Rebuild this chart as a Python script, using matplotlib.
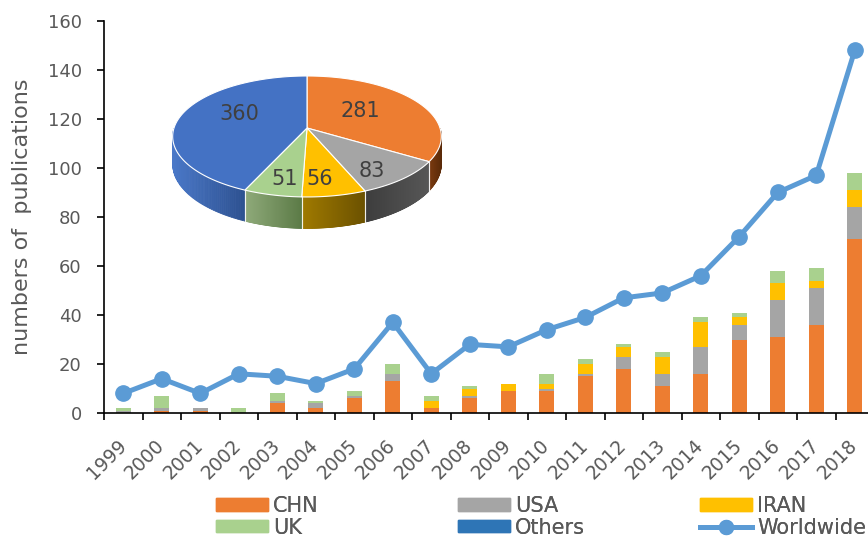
import numpy as np
import matplotlib
matplotlib.use('Agg')
import matplotlib.pyplot as plt
from matplotlib.patches import Polygon, Patch
from matplotlib.lines import Line2D
from matplotlib.colors import to_rgb

# ---------------- data ----------------
years = [str(y) for y in range(1999, 2019)]
chn = [0, 1, 1, 0, 4, 2, 6, 13, 2, 6, 9, 9, 15, 18, 11, 16, 30, 31, 36, 71]
usa = [1, 1, 1, 0, 1, 2, 1, 3, 0, 1, 0, 1, 1, 5, 5, 11, 6, 15, 15, 13]
iran = [0, 0, 0, 0, 0, 0, 0, 0, 3, 3, 3, 2, 4, 4, 7, 10, 3, 7, 3, 7]
uk = [1, 5, 0, 2, 3, 1, 2, 4, 2, 1, 0, 4, 2, 1, 2, 2, 2, 5, 5, 7]
worldwide = [8, 14, 8, 16, 15, 12, 18, 37, 16, 28, 27, 34, 39, 47, 49, 56, 72, 90, 97, 148]
yticks = [0, 20, 40, 60, 80, 100, 120, 140, 160]

pie_names = ['CHN', 'USA', 'IRAN', 'UK', 'Others']
pie_values = [281, 83, 56, 51, 360]

# ---------------- style ----------------
plt.rcParams['font.family'] = ['DejaVu Sans']
TXT = '#595959'
C_CHN, C_USA, C_IRAN, C_UK = '#ED7D31', '#A5A5A5', '#FFC000', '#A9D18E'
C_OTH_LEG = '#2E75B6'
C_LINE = '#5B9BD5'
pie_top = ['#ED7D31', '#A5A5A5', '#FFC000', '#A9D18E', '#4472C4']
pie_side = [('#7a3a10', '#5a2a08'), ('#3d3d3d', '#575757'),
            ('#a07a00', '#6b5100'), ('#8faa7a', '#5b7a46'),
            ('#4a78c8', '#2d5190')]
pie_label_r = [0.55, 0.72, 0.7, 0.7, 0.55]
pie_label_nudge = [(-8, -2), (-2, 8), (-6, 6), (1, 6), (3, -7)]

W, H = 868, 537
fig = plt.figure(figsize=(W / 100, H / 100), dpi=100)
ax = fig.add_axes([104 / W, 1 - 413 / H, 770 / W, 392 / H])

x = np.arange(len(years))
bw = 0.39
b1 = np.array(chn)
b2 = b1 + np.array(usa)
b3 = b2 + np.array(iran)
ax.bar(x, chn, bw, color=C_CHN, linewidth=0, zorder=2)
ax.bar(x, usa, bw, bottom=b1, color=C_USA, linewidth=0, zorder=2)
ax.bar(x, iran, bw, bottom=b2, color=C_IRAN, linewidth=0, zorder=2)
ax.bar(x, uk, bw, bottom=b3, color=C_UK, linewidth=0, zorder=2)
ax.plot(x, worldwide, color=C_LINE, lw=3.6, marker='o', ms=11, zorder=3)

ax.set_xlim(-0.5, len(years) - 0.5)
ax.set_ylim(0, 160)
ax.set_yticks(yticks)
ax.set_yticklabels([str(v) for v in yticks], color=TXT, fontsize=13)
ax.tick_params(axis='y', length=5, width=1.2, color='black', pad=11)
ax.set_xticks(x)
ax.set_xticklabels(years, rotation=45, ha='right', va='center',
                   rotation_mode='anchor', color=TXT, fontsize=13.5)
ax.tick_params(axis='x', which='major', length=0, pad=21)
ax.set_xticks(np.arange(len(years) + 1) - 0.5, minor=True)
ax.tick_params(axis='x', which='minor', length=5, width=1.2, color='black')
for s in ['top', 'right']:
    ax.spines[s].set_visible(False)
for s in ['left', 'bottom']:
    ax.spines[s].set_color('black')
    ax.spines[s].set_linewidth(1.2)
ax.set_ylabel('numbers of  publications', color=TXT, fontsize=16, labelpad=11)

# ---------------- legend (three columns) ----------------
leg_cols = [
    ([Patch(color=C_CHN), Patch(color=C_UK)], ['CHN', 'UK'], 216),
    ([Patch(color=C_USA), Patch(color=C_OTH_LEG)], ['USA', 'Others'], 458),
    ([Patch(color=C_IRAN), Line2D([], [], color=C_LINE, lw=3.6, marker='o', ms=10)],
     ['IRAN', 'Worldwide'], 700),
]
for hs, ls, xl in leg_cols:
    lg = fig.legend(hs, ls, loc='upper left', bbox_to_anchor=(xl / W, 1 - 496 / H),
                    frameon=False, borderpad=0, borderaxespad=0, fontsize=15,
                    labelspacing=0.08, handlelength=2.5, handleheight=0.53,
                    handletextpad=0.25, labelcolor=TXT)
    fig.add_artist(lg)

# ---------------- 3D pie ----------------
ov = fig.add_axes([0, 0, 1, 1], zorder=5)
ov.set_xlim(0, W)
ov.set_ylim(H, 0)
ov.axis('off')
ov.patch.set_alpha(0)

cx, cy, rx, ra, persp, depth = 307, 128, 133, 59.3, 0.14, 27


def proj(th, r=1.0, z=0.0):
    u = r * np.cos(th)
    v = r * np.sin(th)
    s = 1.0 / (1.0 + persp * v)
    return cx + rx * u * s, cy - ra * v * s + depth * z * s


total = float(sum(pie_values))
cum = np.concatenate([[0], np.cumsum(pie_values)])
angles = [(np.radians(90 - 360 * cum[i] / total), np.radians(90 - 360 * cum[i + 1] / total))
          for i in range(len(pie_values))]

# sides
for i, (t0, t1) in enumerate(angles):
    ths = np.linspace(t0, t1, 160)
    segs = []
    for a, b in zip(ths[:-1], ths[1:]):
        if np.sin((a + b) / 2) < 0:
            segs.append((a, b))
    if not segs:
        continue
    xs = [proj(a)[0] for a, b in segs] + [proj(segs[-1][1])[0]]
    xmin, xmax = min(xs), max(xs)
    cl, cd = np.array(to_rgb(pie_side[i][0])), np.array(to_rgb(pie_side[i][1]))
    for a, b in segs:
        pa0, pb0 = proj(a), proj(b)
        pa1, pb1 = proj(a, z=1), proj(b, z=1)
        fx = ((pa0[0] + pb0[0]) / 2 - xmin) / max(xmax - xmin, 1e-6)
        col = cl + (cd - cl) * fx
        ov.add_patch(Polygon([pa0, pb0, pb1, pa1], closed=True, facecolor=col,
                             edgecolor=col, linewidth=0.6))
    for t in (t0, t1):
        if np.sin(t) < 0:
            p0, p1 = proj(t), proj(t, z=1)
            ov.plot([p0[0], p1[0]], [p0[1], p1[1]], color='white', lw=0.8, alpha=0.7)

# tops
for i, (t0, t1) in enumerate(angles):
    ths = np.linspace(t0, t1, 160)
    pts = [(cx, cy)] + [proj(t) for t in ths]
    ov.add_patch(Polygon(pts, closed=True, facecolor=pie_top[i],
                         edgecolor='white', linewidth=0.8))
    tm = (t0 + t1) / 2
    lx, ly = proj(tm, r=pie_label_r[i])
    dx, dy = pie_label_nudge[i]
    ov.text(lx + dx, ly + dy, str(pie_values[i]), ha='center', va='center',
            fontsize=15, color='#404040')

fig.savefig('out.png', dpi=100)
